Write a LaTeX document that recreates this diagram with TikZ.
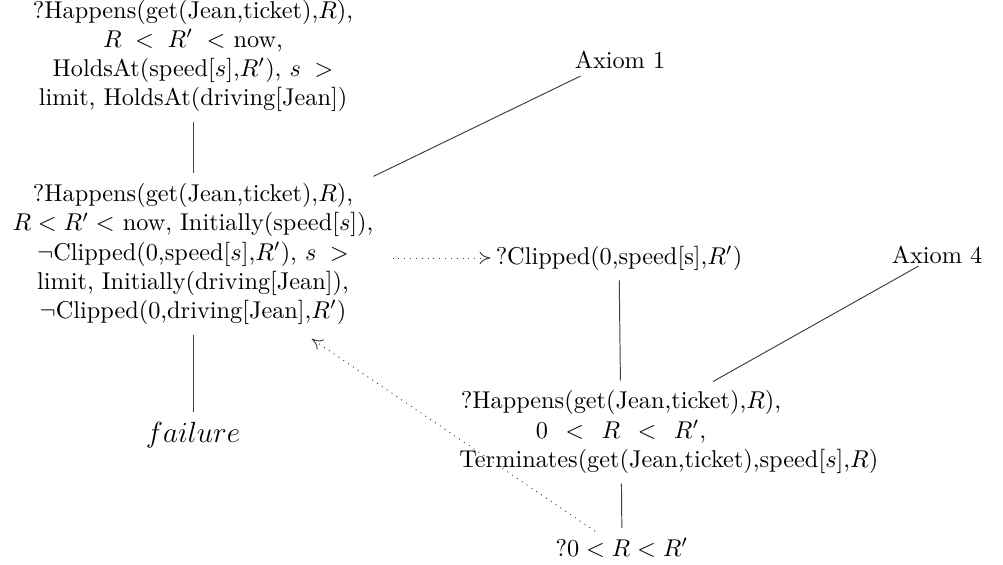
\documentclass[tikz,border=0pt]{standalone}
\usetikzlibrary{calc,arrows.meta}
\begin{document}
\begin{tikzpicture}[x=0.4115pt,y=-0.4115pt,
  txt/.style={align=center,inner sep=4pt},
  conn/.style={draw=black!75,line width=0.4pt},
  dotarrow/.style={draw=black!75,dotted,line width=0.4pt,-{To[length=4.5pt,width=5pt]}}]
\useasboundingbox (0,0) rectangle (1003,564);
\node[txt] (A) at (193,56) {?Happens(get(Jean,ticket),$R$),\\
  $R\;<\;R'\;<$ now,\\
  HoldsAt(speed[$s$],$R'$), $s\;>$\\
  limit, HoldsAt(driving[Jean])};
\node[txt] (B) at (193,254) {?Happens(get(Jean,ticket),$R$),\\
  $R<R'<$ now, Initially(speed[$s$]),\\
  $\neg$Clipped(0,speed[$s$],$R'$), $s\;>$\\
  limit, Initially(driving[Jean]),\\
  $\neg$Clipped(0,driving[Jean],$R'$)};
\node[txt,font=\fontsize{12.5}{15}\selectfont] (F) at (193,435) {$failure$};
\node[txt] (X1) at (620,60) {Axiom 1};
\node[txt] (Cl) at (619,258) {?Clipped(0,speed[s],$R'$)};
\node[align=center,inner xsep=0pt,inner ysep=4pt,text width=133pt] (C) at (621,432) {?Happens(get(Jean,ticket),$R$),\\
  $0<R<R'$,\\
  Terminates(get(Jean,ticket),speed[$s$],$R$)};
\node[txt] (X4) at (937,255) {Axiom 4};
\node[txt] (D) at (622,548) {?$0<R<R'$};
\draw[conn] (A) -- (B);
\draw[conn] (B) -- (F);
\draw[conn] (Cl) -- (C);
\draw[conn] (C) -- (D);
\draw[conn] ($(B.north east)+(-10,3)$) -- ($(X1.south west)+(16,-3)$);
\draw[conn] ($(C.north east)+(-70,1)$) -- ($(X4.south west)+(37,-8)$);
\draw[dotarrow] ($(B.east |- Cl.west)+(9,0)$) -- ($(Cl.west)+(5,0)$);
\draw[dotarrow] ($(D.north)+(-27,3)$) -- ($(B.south east)+(-72,4)$);
\end{tikzpicture}
\end{document}
